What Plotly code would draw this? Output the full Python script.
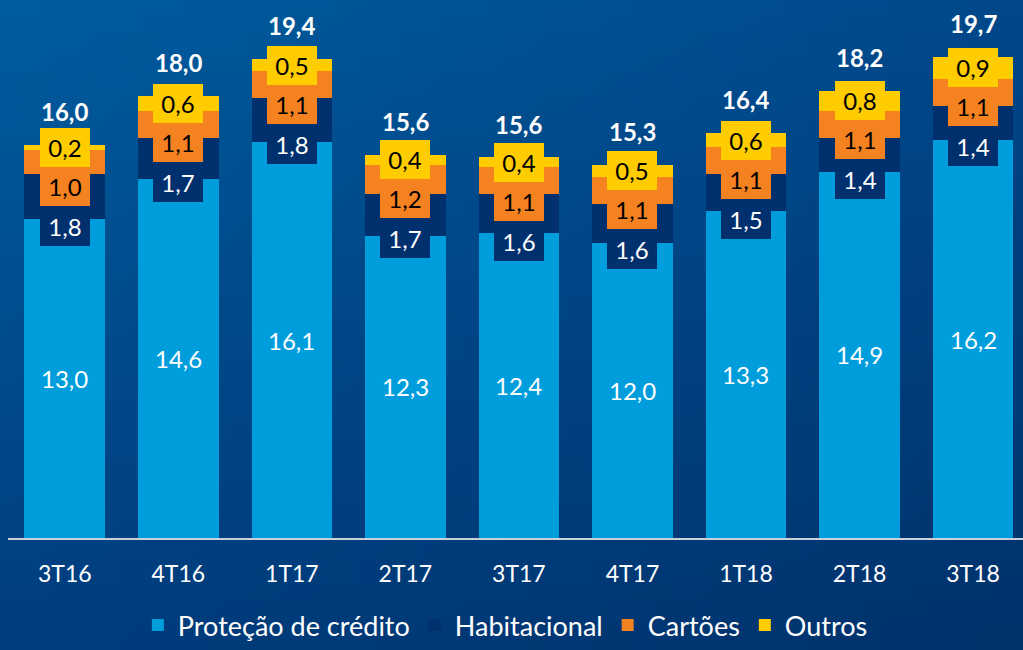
import base64
import struct
import zlib

import plotly.graph_objects as go

# ---------------- data ----------------
categories = ["3T16", "4T16", "1T17", "2T17", "3T17", "4T17", "1T18", "2T18", "3T18"]
protecao = [13.0, 14.6, 16.1, 12.3, 12.4, 12.0, 13.3, 14.9, 16.2]
habitacional = [1.8, 1.7, 1.8, 1.7, 1.6, 1.6, 1.5, 1.4, 1.4]
cartoes = [1.0, 1.1, 1.1, 1.2, 1.1, 1.1, 1.1, 1.1, 1.1]
outros = [0.2, 0.6, 0.5, 0.4, 0.4, 0.5, 0.6, 0.8, 0.9]
totals = [16.0, 18.0, 19.4, 15.6, 15.6, 15.3, 16.4, 18.2, 19.7]
series_names = ["Proteção de crédito", "Habitacional", "Cartões", "Outros"]

# ---------------- style ----------------
C_LIGHT = "#009DDC"
C_NAVY = "#00306E"
C_ORANGE = "#F58220"
C_YELLOW = "#FFCC00"
FONT = "Lato"

W, H = 1023, 650
ML = 8
BASE_PX = 538  # pixel row of the category axis


def fmt(v):
    return f"{v:.1f}".replace(".", ",")


def gradient_png(w, h):
    tl, tr, bl, br = (0, 92, 158), (0, 72, 138), (0, 62, 126), (0, 50, 108)
    raw = b""
    for j in range(h):
        fy = j / (h - 1)
        raw += b"\x00"
        for i in range(w):
            fx = i / (w - 1)
            px = []
            for k in range(3):
                top = tl[k] * (1 - fx) + tr[k] * fx
                bot = bl[k] * (1 - fx) + br[k] * fx
                px.append(int(round(top * (1 - fy) + bot * fy)))
            raw += bytes(px)

    def chunk(tag, data):
        c = struct.pack(">I", len(data)) + tag + data
        return c + struct.pack(">I", zlib.crc32(tag + data) & 0xFFFFFFFF)

    png = b"\x89PNG\r\n\x1a\n"
    png += chunk(b"IHDR", struct.pack(">IIBBBBB", w, h, 8, 2, 0, 0, 0))
    png += chunk(b"IDAT", zlib.compress(raw, 9))
    png += chunk(b"IEND", b"")
    return "data:image/png;base64," + base64.b64encode(png).decode()


fig = go.Figure()
for name, vals, col in zip(series_names, [protecao, habitacional, cartoes, outros],
                           [C_LIGHT, C_NAVY, C_ORANGE, C_YELLOW]):
    fig.add_trace(go.Bar(x=categories, y=vals, name=name, marker=dict(color=col, line=dict(width=0)),
                         width=0.71, hoverinfo="skip"))

annotations = []
for i, cat in enumerate(categories):
    c1 = protecao[i]
    top = c1 + habitacional[i] + cartoes[i] + outros[i]
    ycen = top - outros[i] / 2
    annotations.append(dict(x=cat, y=c1 / 2, text=fmt(protecao[i]), showarrow=False,
                            font=dict(family=FONT, size=24, color="white")))
    for val, col, fcol, shift in [(habitacional[i], C_NAVY, "white", -79),
                                  (cartoes[i], C_ORANGE, "black", -39),
                                  (outros[i], C_YELLOW, "black", 0)]:
        annotations.append(dict(x=cat, y=ycen, yshift=shift, text=fmt(val), showarrow=False,
                                bgcolor=col, width=50, height=39, borderpad=0, borderwidth=0,
                                font=dict(family=FONT, size=24, color=fcol)))
    annotations.append(dict(x=cat, y=top, yshift=33, text="<b>" + fmt(totals[i]) + "</b>",
                            showarrow=False, font=dict(family=FONT, size=24, color="white")))

plot_w = W - ML

fig.update_layout(
    width=W, height=H,
    margin=dict(l=ML, r=0, t=0, b=0, pad=0),
    barmode="stack",
    bargap=0.29,
    paper_bgcolor="#004A8A",
    plot_bgcolor="rgba(0,0,0,0)",
    font=dict(family=FONT, color="white"),
    showlegend=True,
    legend=dict(orientation="h", x=0.49, xanchor="center", y=0, yanchor="bottom",
                font=dict(family=FONT, size=27, color="white"), bgcolor="rgba(0,0,0,0)",
                traceorder="normal", borderwidth=0),
    xaxis=dict(range=[-0.5, 8.44], showgrid=False, zeroline=False, showline=True,
               linecolor="#C8D0DC", linewidth=2, ticks="", ticklabelstandoff=14,
               tickfont=dict(family=FONT, size=23, color="white"), fixedrange=True),
    yaxis=dict(range=[0, 21.9], domain=[(H - BASE_PX) / H, 1], visible=False, showgrid=False,
               zeroline=False, fixedrange=True),
    annotations=annotations,
    images=[dict(source=gradient_png(48, 32), xref="paper", yref="paper",
                 x=-ML / plot_w, y=1, sizex=W / plot_w, sizey=1,
                 xanchor="left", yanchor="top", sizing="stretch", layer="below")],
)

fig.write_html("out.html", config={"displayModeBar": False},
               post_script="document.body.style.margin='0';document.body.style.overflow='hidden';")
